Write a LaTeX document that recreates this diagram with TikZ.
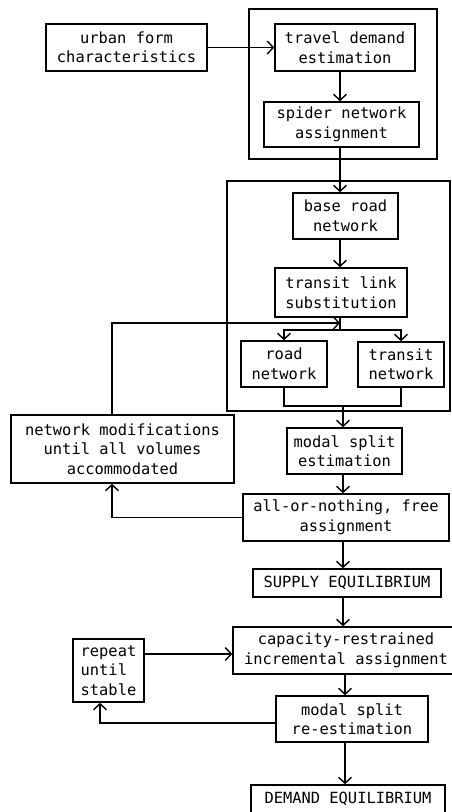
\documentclass[tikz,border=0pt]{standalone}
\usepackage{fontspec}
\setmonofont{DejaVu Sans Mono}
\usetikzlibrary{arrows.meta}

\tikzset{
  blk/.style={draw,line width=1.6pt,inner sep=0pt,align=center,
    font=\ttfamily\fontsize{15.4}{19.5}\selectfont},
  grp/.style={draw,line width=1.6pt,inner sep=0pt},
  arr/.style={line width=1.4pt,-{Straight Barb[length=6pt,width=13pt]}},
  lin/.style={line width=1.4pt}
}

\begin{document}
\begin{tikzpicture}[x=1pt,y=-1pt]
    \useasboundingbox (0,0) rectangle (452,812);
    \node [grp,minimum width=188,minimum height=150] (grp1) at (343,84) {}; % demand frame
    \node [grp,minimum width=223,minimum height=230] (grp2) at (338.5,296) {}; % network frame

    \node [blk,minimum width=161,minimum height=47] (urban) at (126.5,47.5) {urban form\\characteristics};
    \node [blk,minimum width=140,minimum height=47] (travel) at (345,47.5) {travel demand\\estimation};
    \node [blk,minimum width=155,minimum height=45] (spider) at (341.5,124.5) {spider network\\assignment};
    \node [blk,minimum width=105,minimum height=46] (base) at (345.5,216) {base road\\network};
    \node [blk,minimum width=132,minimum height=49] (tlink) at (341,292.5) {transit link\\substitution};
    \node [blk,minimum width=86,minimum height=46] (road) at (284,364) {road\\network};
    \node [blk,minimum width=86,minimum height=45] (transit) at (401,364.5) {transit\\network};
    \node [blk,minimum width=223,minimum height=68] (netmod) at (122.5,449) {network modifications\\until all volumes\\accommodated};
    \node [blk,minimum width=115,minimum height=46] (modal) at (344.5,451) {modal split\\estimation};
    \node [blk,minimum width=206,minimum height=47] (aon) at (346,517.5) {all-or-nothing, free\\assignment};
    \node [blk,minimum width=188,minimum height=28] (supply) at (347,583) {SUPPLY EQUILIBRIUM};
    \node [blk,minimum width=226,minimum height=47] (cap) at (346,650.5) {capacity-restrained\\incremental assignment};
    \node [blk,minimum width=71,minimum height=63,align=left] (rep) at (108.5,670.5) {repeat\\until\\stable};
    \node [blk,minimum width=152,minimum height=46] (modre) at (352,719) {modal split\\re-estimation};
    \node [blk,minimum width=194,minimum height=28] (demand) at (348,799) {DEMAND EQUILIBRIUM};

    % spine columns and turning points
    \coordinate (ax) at (340,0);
    \coordinate (bx) at (343,0);
    \coordinate (cx) at (345,0);
    \coordinate (fb) at (340,323);
    \coordinate (lp1) at (112,323);
    \coordinate (br) at (340,330);
    \coordinate (mg) at (343,406);
    \coordinate (rp) at (0,654);
    \coordinate (lp2) at (100,723);

    \draw [arr] (urban.east) -- (travel.west);
    \draw [arr] (ax |- travel.south) -- (ax |- spider.north);
    \draw [arr] (ax |- spider.south) -- (ax |- base.north);
    \draw [arr] (ax |- base.south) -- (ax |- tlink.north);
    \draw [lin] (ax |- tlink.south) -- (br);
    \draw [arr] (br) -| (road.north);
    \draw [arr] (br) -| (transit.north);
    \draw [arr] (lp1 |- netmod.north) -- (lp1) -- (fb); % modification loop
    \draw [lin] (road.south) |- (mg) -| (transit.south);
    \draw [arr] (mg) -- (bx |- modal.north);
    \draw [arr] (bx |- modal.south) -- (bx |- aon.north);
    \draw [arr] (aon.west) -| (lp1 |- netmod.south);
    \draw [arr] (bx |- aon.south) -- (bx |- supply.north);
    \draw [arr] (bx |- supply.south) -- (bx |- cap.north);
    \draw [arr] (rep.east |- rp) -- (cap.west |- rp);
    \draw [arr] (cx |- cap.south) -- (cx |- modre.north);
    \draw [arr] (modre.west |- lp2) -- (lp2) -- (lp2 |- rep.south); % repeat loop
    \draw [arr] (cx |- modre.south) -- (cx |- demand.north);
\end{tikzpicture}
\end{document}
